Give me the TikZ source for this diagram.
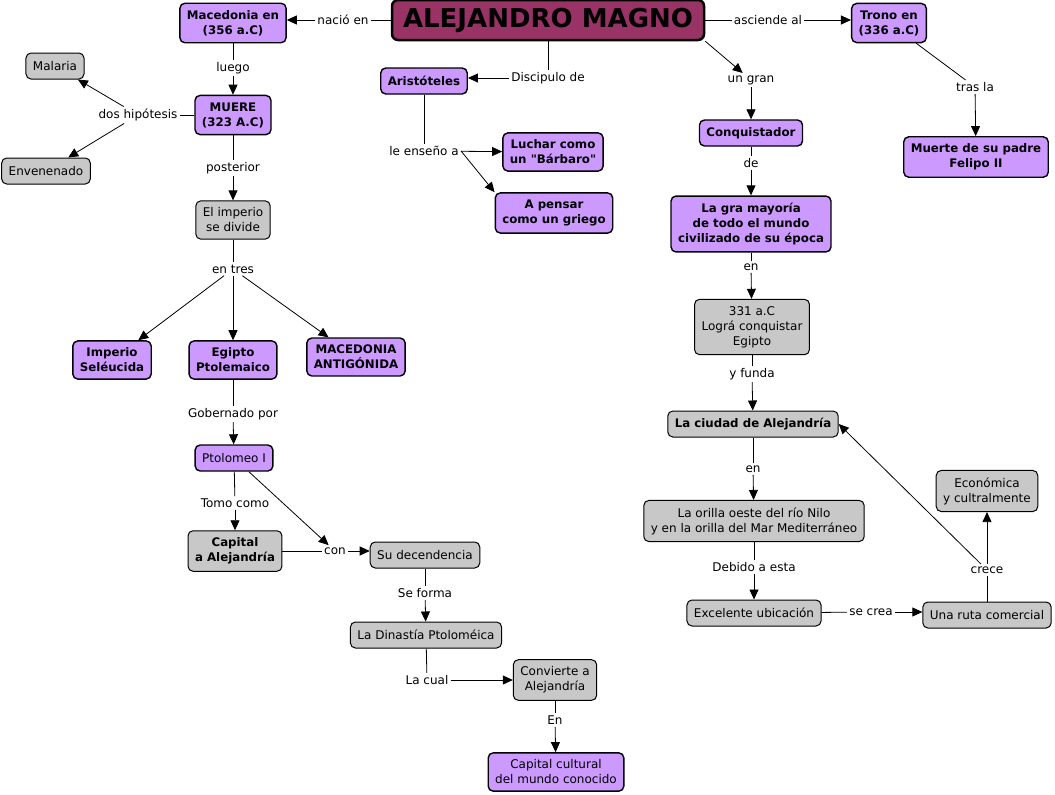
\documentclass[tikz,border=0pt]{standalone}
\usepackage{fontspec}
\setmainfont{DejaVu Sans}
\usetikzlibrary{arrows.meta}
\definecolor{lila}{HTML}{CC99FF}
\definecolor{gris}{HTML}{C8C8C8}
\definecolor{granate}{HTML}{993366}
\begin{document}
\begin{tikzpicture}[x=1pt,y=-1pt,>={Triangle[length=10pt,width=9pt]},line width=0.8pt,
	caja/.style={draw,rounded corners=5pt,align=center,inner xsep=7pt,inner ysep=7pt,minimum height=26pt,font=\fontsize{12}{15}\selectfont},
	negrita/.style={font=\fontsize{11.8}{15}\selectfont\bfseries},
	morado/.style={caja,fill=lila,line width=1.4pt},
	ceniza/.style={caja,fill=gris,line width=1pt},
	titulo/.style={draw,fill=granate,rounded corners=6pt,line width=2.5pt,minimum width=312pt,minimum height=40pt,font=\fontsize{26}{30}\selectfont\bfseries},
	enlace/.style={inner sep=2pt,font=\fontsize{12}{15}\selectfont}]
				\useasboundingbox (0,0) rectangle (1055,795);
				\fill[white] (0,0) rectangle (1055,795);
				\node[titulo] (magno) at (548,20) {ALEJANDRO MAGNO};
				\node[morado,negrita] (macedonia) at (233,23) {Macedonia en\\(356 a.C)};
				\node[morado,negrita] (trono) at (889,23) {Trono en\\(336 a.C)};
				\node[ceniza] (malaria) at (55,66) {Malaria};
				\node[ceniza] (envenenado) at (46,171) {Envenenado};
				\node[morado,negrita] (muere) at (233,115) {MUERE\\(323 A.C)};
				\node[morado,negrita] (aristoteles) at (424,81) {Aristóteles};
				\node[morado,negrita] (luchar) at (553,152) {Luchar como\\un \textquotedbl Bárbaro\textquotedbl};
				\node[morado,negrita] (pensar) at (554,213) {A pensar\\como un griego};
				\node[morado,negrita] (conquistador) at (751,133) {Conquistador};
				\node[morado,negrita] (muertepadre) at (976,157) {Muerte de su padre\\Felipo II};
				\node[morado,negrita] (mayoria) at (751,224) {La gra mayoría\\de todo el mundo\\civilizado de su época};
				\node[ceniza] (imperio) at (233,220) {El imperio\\se divide};
				\node[morado,negrita] (seleucida) at (112,360) {Imperio\\Seléucida};
				\node[morado,negrita] (egipto) at (233,360) {Egipto\\Ptolemaico};
				\node[morado,negrita] (antigonida) at (356,357) {MACEDONIA\\ANTIGÓNIDA};
				\node[morado] (ptolomeo) at (234,458) {Ptolomeo I};
				\node[ceniza,negrita] (capital) at (235,551) {Capital\\a Alejandría};
				\node[ceniza] (decendencia) at (425,555) {Su decendencia};
				\node[ceniza] (dinastia) at (426,635) {La Dinastía Ptoloméica};
				\node[ceniza] (convierte) at (555,680) {Convierte a\\Alejandría};
				\node[morado] (cultural) at (556,772) {Capital cultural\\del mundo conocido};
				\node[ceniza] (conquista) at (752,327) {331 a.C\\Lográ conquistar\\Egipto};
				\node[ceniza,negrita] (ciudad) at (753,424) {La ciudad de Alejandría};
				\node[ceniza] (orilla) at (754,521) {La orilla oeste del río Nilo\\y en la orilla del Mar Mediterráneo};
				\node[ceniza] (ubicacion) at (754,613) {Excelente ubicación};
				\node[ceniza] (ruta) at (987,615) {Una ruta comercial};
				\node[ceniza] (economica) at (987,491) {Económica\\y cultralmente};
				\node[enlace] (nacio) at (343,20) {nació en};
				\node[enlace] (asciende) at (768,20) {asciende al};
				\node[enlace] (luego) at (233,68) {luego};
				\node[enlace] (hipotesis) at (138,115) {dos hipótesis};
				\node[enlace] (discipulo) at (548,78) {Discipulo de};
				\node[enlace] (ungran) at (751,80) {un gran};
				\node[enlace] (trasla) at (975,87) {tras la};
				\node[enlace] (ensenio) at (424,151) {le enseño a};
				\node[enlace] (de) at (751,163) {de};
				\node[enlace] (posterior) at (233,168) {posterior};
				\node[enlace] (entres) at (233,269) {en tres};
				\node[enlace] (en1) at (751,267) {en};
				\node[enlace] (yfunda) at (752,374) {y funda};
				\node[enlace] (gobernado) at (233,414) {Gobernado por};
				\node[enlace] (en2) at (753,469) {en};
				\node[enlace] (tomo) at (235,503) {Tomo como};
				\node[enlace] (con) at (335,551) {con};
				\node[enlace] (seforma) at (425,593) {Se forma};
				\node[enlace] (debido) at (754,567) {Debido a esta};
				\node[enlace] (secrea) at (871,612) {se crea};
				\node[enlace] (crece) at (987,570) {crece};
				\node[enlace] (lacual) at (427,680) {La cual};
				\node[enlace] (en3) at (555,720) {En};
				\draw (magno) -- (nacio);
				\draw[->] (nacio) -- (nacio -| macedonia.east);
				\draw (magno) -- (asciende);
				\draw[->] (asciende) -- (asciende -| trono.west);
				\draw (magno) -- (discipulo);
				\draw[->] (discipulo) -- (discipulo -| aristoteles.east);
				\draw[->] (magno.south east) -- (ungran);
				\draw[->] (ungran) -- (conquistador);
				\draw (trono) -- (trasla);
				\draw[->] (trasla) -- (muertepadre);
				\draw (macedonia) -- (luego);
				\draw[->] (luego) -- (muere);
				\draw (muere) -- (hipotesis);
				\draw[->] (hipotesis) -- (malaria);
				\draw[->] (hipotesis) -- (envenenado);
				\draw (aristoteles) -- (ensenio);
				\draw[->] (ensenio) -- (luchar);
				\draw[->] (ensenio.east) -- (pensar.north west);
				\draw (conquistador) -- (de);
				\draw[->] (de) -- (mayoria);
				\draw (muere) -- (posterior);
				\draw[->] (posterior) -- (imperio);
				\draw (imperio) -- (entres);
				\draw[->] (entres) -- (seleucida);
				\draw[->] (entres) -- (egipto);
				\draw[->] (entres) -- (antigonida);
				\draw (mayoria) -- (en1);
				\draw[->] (en1) -- (conquista);
				\draw (conquista) -- (yfunda);
				\draw[->] (yfunda) -- (ciudad);
				\draw (egipto) -- (gobernado);
				\draw[->] (gobernado) -- (ptolomeo);
				\draw (ciudad) -- (en2);
				\draw[->] (en2) -- (orilla);
				\draw (ptolomeo) -- (tomo);
				\draw[->] (tomo) -- (capital);
				\draw[->] (ptolomeo) -- (con);
				\draw (capital) -- (con);
				\draw[->] (con) -- (con -| decendencia.west);
				\draw (decendencia) -- (seforma);
				\draw[->] (seforma) -- (dinastia);
				\draw (orilla) -- (debido);
				\draw[->] (debido) -- (ubicacion);
				\draw (ubicacion) -- (secrea);
				\draw[->] (secrea) -- (secrea -| ruta.west);
				\draw (ruta) -- (crece);
				\draw[->] (crece) -- (economica);
				\draw[->] (crece) -- (ciudad.east);
				\draw (dinastia) -- (lacual);
				\draw[->] (lacual) -- (convierte);
				\draw (convierte) -- (en3);
				\draw[->] (en3) -- (cultural);
			\end{tikzpicture}
\end{document}
